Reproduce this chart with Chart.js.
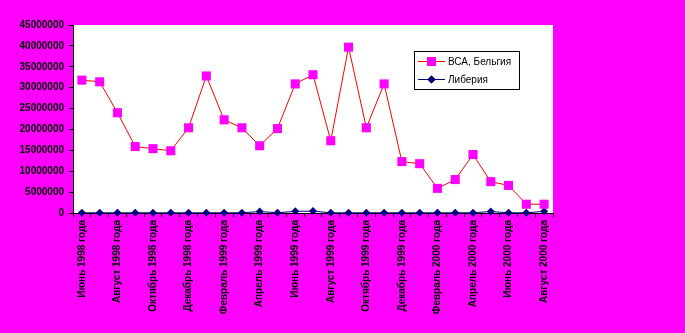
<!DOCTYPE html>
<html>
<head>
<meta charset="utf-8">
<script src="https://cdn.jsdelivr.net/npm/chart.js@4/dist/chart.umd.min.js"></script>
<style>
  html, body { margin: 0; padding: 0; background: #ff00ff; }
  #wrap { width: 685px; height: 333px; position: relative; }
</style>
</head>
<body>
<div id="wrap"><canvas id="chart" width="685" height="333"></canvas></div>
<script>
// Месяцы с июня 1998 по август 2000
const months = [
  'Июнь 1998 года', 'Июль 1998 года', 'Август 1998 года', 'Сентябрь 1998 года',
  'Октябрь 1998 года', 'Ноябрь 1998 года', 'Декабрь 1998 года', 'Январь 1999 года',
  'Февраль 1999 года', 'Март 1999 года', 'Апрель 1999 года', 'Май 1999 года',
  'Июнь 1999 года', 'Июль 1999 года', 'Август 1999 года', 'Сентябрь 1999 года',
  'Октябрь 1999 года', 'Ноябрь 1999 года', 'Декабрь 1999 года', 'Январь 2000 года',
  'Февраль 2000 года', 'Март 2000 года', 'Апрель 2000 года', 'Май 2000 года',
  'Июнь 2000 года', 'Июль 2000 года', 'Август 2000 года'
];

const vcaBelgium = [
  31800000, 31400000, 24000000, 15900000, 15400000, 14900000, 20400000, 32800000,
  22300000, 20400000, 16100000, 20200000, 30900000, 33100000, 17300000, 39700000,
  20400000, 30900000, 12300000, 11800000, 5900000, 8000000, 14000000, 7500000,
  6600000, 2100000, 2100000
];

const liberia = [
  50000, 50000, 50000, 50000, 50000, 50000, 50000, 50000,
  50000, 50000, 350000, 50000, 400000, 450000, 50000, 50000,
  50000, 50000, 50000, 50000, 50000, 50000, 50000, 350000,
  50000, 50000, 400000
];

const yTicks = [0, 5000000, 10000000, 15000000, 20000000, 25000000, 30000000, 35000000, 40000000, 45000000];

const FONT = '"Liberation Sans", Arial, sans-serif';

// белая область построения
const plotBg = {
  id: 'plotBg',
  beforeDraw(chart) {
    const { ctx, chartArea: a } = chart;
    ctx.save();
    ctx.fillStyle = '#ffffff';
    ctx.fillRect(a.left, a.top, a.right - a.left, a.bottom - a.top);
    ctx.restore();
  }
};

// легенда в рамке внутри графика
const boxLegend = {
  id: 'boxLegend',
  afterDraw(chart) {
    const ctx = chart.ctx;
    const x = 414, y = 51, w = 105, h = 38;
    ctx.save();
    ctx.fillStyle = '#ffffff';
    ctx.fillRect(x, y, w, h);
    ctx.strokeStyle = '#000000';
    ctx.lineWidth = 1;
    ctx.strokeRect(x + 0.5, y + 0.5, w, h);

    const rows = [
      { ds: chart.data.datasets[0], cy: 61 },
      { ds: chart.data.datasets[1], cy: 79 }
    ];
    rows.forEach(r => {
      ctx.strokeStyle = r.ds.borderColor;
      ctx.lineWidth = r.ds.borderWidth;
      ctx.beginPath();
      ctx.moveTo(418, r.cy + 0.5);
      ctx.lineTo(445, r.cy + 0.5);
      ctx.stroke();
      Chart.helpers.drawPoint(ctx, {
        pointStyle: r.ds.pointStyle,
        radius: r.ds.pointRadius,
        borderWidth: 0,
        rotation: 0
      }, 431.5, r.cy + 0.5);
      ctx.fillStyle = r.ds.pointBackgroundColor;
      ctx.fill();
      ctx.fillStyle = '#000000';
      ctx.font = '10px ' + FONT;
      ctx.textBaseline = 'middle';
      ctx.fillText(r.ds.label, 448, r.cy + 1);
    });
    ctx.restore();
  }
};

new Chart(document.getElementById('chart'), {
  type: 'line',
  data: {
    labels: months,
    datasets: [
      {
        label: 'ВСА, Бельгия',
        data: vcaBelgium,
        borderColor: '#ff0000',
        borderWidth: 1,
        pointStyle: 'rect',
        pointRadius: 6.4,
        pointBackgroundColor: '#ff00ff',
        pointBorderWidth: 0,
        tension: 0,
        clip: false
      },
      {
        label: 'Либерия',
        data: liberia,
        borderColor: '#000080',
        borderWidth: 1,
        pointStyle: 'rectRot',
        pointRadius: 4,
        pointBackgroundColor: '#000080',
        pointBorderWidth: 0,
        tension: 0,
        clip: false
      }
    ]
  },
  options: {
    responsive: false,
    animation: false,
    layout: { padding: { top: 25, right: 132, left: 0, bottom: 0 } },
    plugins: {
      legend: { display: false },
      tooltip: { enabled: false }
    },
    scales: {
      x: {
        offset: true,
        border: { color: '#000000', width: 1 },
        grid: {
          offset: true,
          drawOnChartArea: false,
          color: '#000000',
          tickLength: 4
        },
        ticks: {
          autoSkip: false,
          maxRotation: 90,
          minRotation: 90,
          padding: 3,
          color: '#000000',
          font: { family: FONT, size: 10, weight: 'bold' },
          callback: (v, i) => (i % 2 === 0 ? months[i] : '')
        },
        afterFit: s => { s.height = 120; }
      },
      y: {
        min: 0,
        max: 45000000,
        border: { color: '#000000', width: 1 },
        grid: {
          drawOnChartArea: false,
          color: '#000000',
          tickLength: 4
        },
        afterBuildTicks: s => { s.ticks = yTicks.map(v => ({ value: v })); },
        ticks: {
          padding: 5,
          color: '#000000',
          font: { family: FONT, size: 10, weight: 'bold' },
          callback: v => String(v)
        },
        afterFit: s => { s.width = 73; }
      }
    }
  },
  plugins: [plotBg, boxLegend]
});
</script>
</body>
</html>
